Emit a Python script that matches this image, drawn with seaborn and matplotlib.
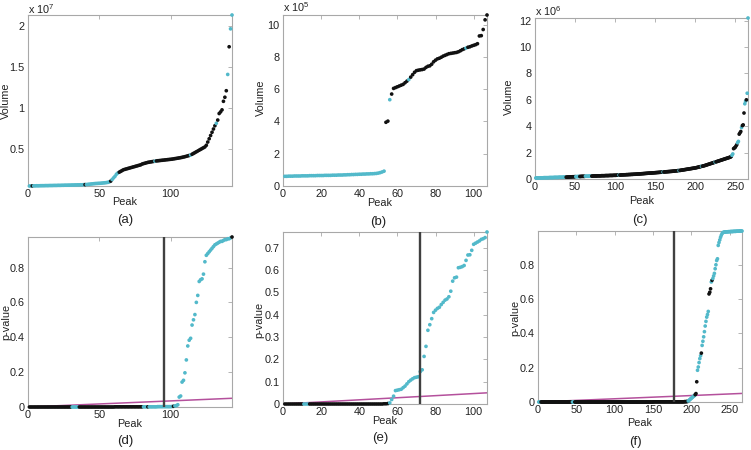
import matplotlib
matplotlib.use("Agg")
import matplotlib.pyplot as plt
import seaborn as sns
import pandas as pd

# ---------------- data ----------------
# (a) sorted peak volumes, units of 1e7
a_vol = [
    .040, .041, .041, .042, .042, .043, .043, .043, .044, .044,
    .044, .045, .045, .045, .046, .046, .046, .047, .047, .047,
    .048, .048, .048, .049, .049, .050, .050, .050, .051, .051,
    .052, .052, .053, .053, .054, .054, .055, .055, .056, .057,
    .058, .060, .062, .064, .066, .068, .070, .071, .072, .073,
    .074, .076, .078, .080, .082, .085, .090, .100, .120, .140,
    .160, .185, .200, .210, .220, .230, .240, .245, .250, .255,
    .260, .265, .270, .275, .280, .285, .290, .295, .300, .310,
    .315, .320, .325, .330, .333, .336, .339, .342, .345, .348,
    .350, .352, .354, .356, .358, .360, .362, .364, .366, .368,
    .370, .373, .376, .379, .382, .385, .388, .392, .396, .400,
    .405, .410, .415, .420, .430, .440, .450, .460, .470, .480,
    .490, .500, .510, .520, .540, .580, .620, .660, .700, .740,
    .780, .810, .850, .930, .950, .975, 1.08, 1.13, 1.21, 1.41,
    1.75, 1.97, 2.14,
]
a_runs = [("c", 2), ("k", 1), ("c", 36), ("k", 1), ("c", 17), ("k", 1), ("c", 5),
          ("k", 25), ("c", 1), ("k", 24), ("c", 1), ("k", 17), ("c", 1), ("k", 7),
          ("c", 1), ("k", 1), ("c", 2)]

# (b) sorted peak volumes, units of 1e5
b_vol = [
    .60, .60, .61, .61, .61, .62, .62, .62, .62, .63,
    .63, .63, .63, .64, .64, .64, .64, .65, .65, .65,
    .65, .66, .66, .66, .66, .67, .67, .67, .68, .68,
    .68, .69, .69, .70, .70, .71, .71, .72, .72, .73,
    .73, .74, .74, .75, .75, .76, .76, .77, .78, .80,
    .83, .87, .92, 3.95, 4.02, 5.35, 5.70,
    6.05, 6.10, 6.15, 6.20, 6.25, 6.30, 6.40, 6.50, 6.60, 6.75,
    6.90, 7.05, 7.15, 7.18, 7.20, 7.22, 7.25, 7.35, 7.42, 7.45,
    7.55, 7.70, 7.80, 7.88, 7.92, 7.98, 8.05, 8.10, 8.15, 8.20,
    8.22, 8.24, 8.26, 8.28, 8.32, 8.38, 8.45, 8.50, 8.55, 8.60,
    8.63, 8.68, 8.72, 8.76, 8.82, 9.30, 9.32, 9.70, 10.30, 10.60,
]
b_runs = [("c", 53), ("k", 2), ("c", 1), ("k", 9), ("c", 1), ("k", 29), ("c", 1), ("k", 11)]

# (c) sorted peak volumes, units of 1e6
c_vol = [
    .08, .08, .08, .08, .09, .09, .09, .09, .09, .09,
    .10, .10, .10, .10, .10, .10, .10, .11, .11, .11,
    .11, .11, .11, .12, .12, .12, .12, .12, .12, .13,
    .13, .13, .13, .13, .13, .14, .14, .14, .14, .14,
    .15, .15, .15, .16, .16, .16, .17, .17, .17, .18,
    .18, .18, .18, .19, .19, .19, .19, .20, .20, .20,
    .20, .20, .21, .21, .21, .21, .21, .22, .22, .22,
    .22, .22, .23, .23, .23, .23, .23, .24, .24, .24,
    .24, .24, .25, .25, .25, .25, .25, .26, .26, .26,
    .26, .26, .27, .27, .27, .27, .27, .28, .28, .28,
    .28, .29, .29, .29, .30, .30, .30, .31, .31, .31,
    .32, .32, .32, .33, .33, .33, .34, .34, .34, .35,
    .35, .35, .36, .36, .36, .37, .37, .38, .38, .38,
    .39, .39, .40, .40, .41, .41, .42, .42, .43, .43,
    .44, .44, .45, .45, .45, .46, .46, .47, .47, .48,
    .48, .49, .49, .50, .50, .51, .51, .52, .52, .53,
    .53, .54, .54, .55, .55, .56, .56, .57, .57, .58,
    .58, .59, .60, .60, .61, .62, .62, .63, .64, .64,
    .65, .66, .67, .68, .69, .70, .71, .72, .73, .74,
    .75, .76, .77, .78, .79, .80, .81, .82, .83, .84,
    .85, .87, .88, .90, .91, .93, .94, .96, .97, .99,
    1.00, 1.02, 1.04, 1.06, 1.08, 1.10, 1.12, 1.14, 1.16, 1.18,
    1.20, 1.22, 1.24, 1.26, 1.28, 1.30, 1.32, 1.34, 1.36, 1.38,
    1.40, 1.42, 1.44, 1.46, 1.48, 1.50, 1.52, 1.54, 1.56, 1.58,
    1.60, 1.62, 1.64, 1.66, 1.70, 1.80, 1.90, 2.30, 2.35, 2.40,
    2.50, 2.60, 2.75, 2.85, 3.40, 3.50, 3.60, 3.90, 4.05, 4.10,
    5.00, 5.70, 5.90, 6.00, 6.50, 12.20,
]
c_runs = [("c", 38), ("k", 12), ("c", 5), ("k", 7), ("c", 8), ("k", 34), ("c", 1),
          ("k", 54), ("c", 1), ("k", 19), ("c", 1), ("k", 27), ("c", 1), ("k", 16),
          ("c", 1), ("k", 20), ("c", 2), ("k", 5), ("c", 2), ("k", 3), ("c", 1),
          ("k", 3), ("c", 2), ("k", 1), ("c", 2)]

# (d) sorted p-values
d_p = [
    0, 0, 0, 0, 0, 0, 0, 0, 0, 0,
    0, 0, 0, 0, 0, 0, 0, 0, 0, 0,
    0, 0, 0, 0, 0, 0, 0, 0, 0, 0,
    0, 0, 0, 0, 0, 0, 0, 0, 0, 0,
    0, 0, 0, 0, 0, 0, 0, 0, 0, 0,
    0, 0, 0, 0, 0, 0, 0, 0, 0, 0,
    .001, .001, .001, .001, .001, .001, .001, .001, .001, .001,
    .001, .001, .001, .001, .001, .001, .001, .001, .001, .001,
    .001, .001, .001, .001, .001, .001, .001, .001, .001, .001,
    .002, .002, .002, .002, .002, .002, .002, .002, .002, .002,
    .003, .004, .006, .008, .013,
    .057, .063, .143, .153, .196, .270, .350, .383, .394, .470,
    .500, .530, .600, .640, .720, .730, .735, .762, .833,
    .870, .880, .890, .900, .910, .920, .930, .935, .940, .945,
    .950, .950, .955, .960, .960, .965, .965, .970, .975,
]
d_runs = [("k", 30), ("c", 5), ("k", 45), ("c", 3), ("k", 1), ("c", 17), ("k", 1), ("c", 40), ("k", 1)]
d_cut = 95

# (e) sorted p-values
e_p = [
    0, 0, 0, 0, 0, 0, 0, 0, 0, 0,
    0, 0, 0, 0, 0, 0, 0, 0, 0, 0,
    0, 0, 0, 0, 0, 0, 0, 0, 0, 0,
    0, 0, 0, 0, 0, 0, 0, 0, 0, 0,
    0, 0, 0, 0, 0, 0, 0, 0, 0, 0,
    0, 0, .001, .001, .002,
    .005, .020, .035, .060, .062, .064, .066, .073, .080, .090,
    .100, .107, .113, .118, .120, .122, .145, .153, .213, .258,
    .330, .355, .382, .410, .420, .428, .433, .445, .455, .465,
    .470, .480, .505, .550, .565, .568, .610, .612, .615, .620,
    .643, .667, .668, .688, .715, .720, .725, .730, .737, .740,
    .745, .770,
]
e_runs = [("k", 10), ("c", 3), ("k", 42), ("c", 52)]
e_cut = 72

# (f) sorted p-values
f_p = [
    0, 0, 0, 0, 0, 0, 0, 0, 0, 0,
    0, 0, 0, 0, 0, 0, 0, 0, 0, 0,
    0, 0, 0, 0, 0, 0, 0, 0, 0, 0,
    0, 0, 0, 0, 0, 0, 0, 0, 0, 0,
    0, 0, 0, 0, 0, 0, 0, 0, 0, 0,
    0, 0, 0, 0, 0, 0, 0, 0, 0, 0,
    0, 0, 0, 0, 0, 0, 0, 0, 0, 0,
    0, 0, 0, 0, 0, 0, 0, 0, 0, 0,
    0, 0, 0, 0, 0, 0, 0, 0, 0, 0,
    0, 0, 0, 0, 0, 0, 0, 0, 0, 0,
    0, 0, 0, 0, 0, 0, 0, 0, 0, 0,
    0, 0, 0, 0, 0, 0, 0, 0, 0, 0,
    0, 0, 0, 0, 0, 0, 0, 0, 0, 0,
    0, 0, 0, 0, 0, 0, 0, 0, 0, 0,
    0, 0, 0, 0, 0, 0, 0, 0, 0, 0,
    .001, .001, .001, .001, .001, .001, .001, .001, .001, .001,
    .001, .001, .001, .001, .001, .001, .001, .001, .001, .001,
    .001, .001, .001, .001, .001, .001, .001, .001, .001, .001,
    .001, .001, .001, .001, .001, .001, .001, .001, .001, .001,
    .002, .002, .002, .003, .003,
    .006, .010, .014, .018, .022, .026, .030, .034, .038,
    .043, .049, .118,
    .185, .204, .230, .253, .270, .285, .330, .354, .380, .410,
    .443, .470, .495, .510, .528,
    .630, .640, .660, .700, .710,
    .720, .735, .750, .777, .800, .825, .835,
    .913, .930, .945, .960, .972, .982, .987, .990,
    .991, .991, .992, .992, .992, .993, .993, .993, .994, .994,
    .994, .994, .995, .995, .995, .995, .996, .996, .996, .996,
    .997, .997, .997, .997,
]
f_runs = [("c", 3), ("k", 41), ("c", 3), ("k", 148), ("c", 9), ("k", 3), ("c", 5),
          ("k", 1), ("c", 9), ("k", 3), ("c", 1), ("k", 1), ("c", 39)]
f_cut = 177

fdr_alpha = 0.05

# ---------------- style ----------------
CYAN = "#52B9CA"
BLACK = "#111111"
MAGENTA = "#B4509C"
VLINE = "#404040"
SPINE = "#A8A8A8"
TXT = "#222222"
TICK_FS = 7.8
LAB_FS = 7.8
LET_FS = 9.5

sns.set_theme(style="white")
plt.rcParams["font.family"] = ["Liberation Sans", "DejaVu Sans"]
plt.rcParams["mathtext.fontset"] = "custom"
plt.rcParams["mathtext.rm"] = "Liberation Sans"

W, H = 751, 450
fig = plt.figure(figsize=(W / 100, H / 100), dpi=100)


def pos(l, r, t, b):
    return [l / W, 1 - b / H, (r - l) / W, (b - t) / H]


def runs_to_list(runs):
    out = []
    for g, n in runs:
        out.extend([g] * n)
    return out


def ftext(x, y, s, **kw):
    fig.text(x / W, 1 - y / H, s, color=TXT, **kw)


def panel(rect, vals, runs, xticks, yticks, ylim):
    ax = fig.add_axes(rect)
    n = len(vals)
    df = pd.DataFrame({"Peak": list(range(1, n + 1)), "v": vals, "g": runs_to_list(runs)})
    sns.scatterplot(data=df, x="Peak", y="v", hue="g", palette={"c": CYAN, "k": BLACK},
                    s=7, linewidth=0, legend=False, ax=ax, clip_on=False, zorder=3)
    ax.set_xlim(0, n)
    ax.set_ylim(*ylim)
    ax.set_xticks(xticks)
    ax.set_yticks(yticks)
    ax.set_xticklabels(["%g" % t for t in xticks])
    ax.set_yticklabels(["%g" % t for t in yticks])
    ax.set_xlabel("")
    ax.set_ylabel("")
    ax.tick_params(direction="in", top=True, right=True, length=3, width=0.6,
                   color=SPINE, labelcolor=TXT, labelsize=TICK_FS)
    ax.tick_params(axis="y", pad=2.5)
    ax.tick_params(axis="x", pad=2.5)
    for sp in ax.spines.values():
        sp.set_color(SPINE)
        sp.set_linewidth(0.8)
    return ax


# top row
ax_a = panel(pos(28, 232, 15, 186), a_vol, a_runs, [0, 50, 100], [0.5, 1, 1.5, 2],
             (min(a_vol), max(a_vol)))
ax_b = panel(pos(283, 487, 15, 186), b_vol, b_runs, [0, 20, 40, 60, 80, 100],
             [0, 2, 4, 6, 8, 10], (0, max(b_vol)))
ax_c = panel(pos(535, 748, 18, 179), c_vol, c_runs, [0, 50, 100, 150, 200, 250],
             [0, 2, 4, 6, 8, 10, 12], (0, max(c_vol)))

# bottom row
bottom = [
    (pos(28, 232, 237, 407), d_p, d_runs, [0, 50, 100], [0, 0.2, 0.4, 0.6, 0.8], d_cut),
    (pos(283, 487, 232, 404), e_p, e_runs, [0, 20, 40, 60, 80, 100],
     [0, 0.1, 0.2, 0.3, 0.4, 0.5, 0.6, 0.7], e_cut),
    (pos(538, 742, 231, 402), f_p, f_runs, [0, 50, 100, 150, 200, 250],
     [0, 0.2, 0.4, 0.6, 0.8], f_cut),
]
for rect, vals, runs, xt, yt, cut in bottom:
    ax = panel(rect, vals, runs, xt, yt, (0, max(vals)))
    n = len(vals)
    sns.lineplot(x=[0, n], y=[0, fdr_alpha], color=MAGENTA, lw=1.1, ax=ax, zorder=2)
    ax.axvline(cut, color=VLINE, lw=1.7, zorder=4)
    ax.set_xlim(0, n)

# exponent labels
ftext(28, 9, r"x 10$^{7}$", fontsize=TICK_FS, ha="left", va="center")
ftext(283, 7, r"x 10$^{5}$", fontsize=TICK_FS, ha="left", va="center")
ftext(535, 11, r"x 10$^{6}$", fontsize=TICK_FS, ha="left", va="center")

# axis labels
for x, y in [(6, 101), (261, 98), (509, 97)]:
    ftext(x, y, "Volume", fontsize=LAB_FS, rotation=90, ha="center", va="center")
for x, y in [(6, 322), (259, 320), (515, 318)]:
    ftext(x, y, "p-value", fontsize=LAB_FS, rotation=90, ha="center", va="center")
for x, y in [(125, 202), (380, 203), (642, 201), (130, 424), (385, 421), (640, 423)]:
    ftext(x, y, "Peak", fontsize=LAB_FS, ha="center", va="center")

# panel letters
letters = [(125, 220, "(a)"), (378, 222, "(b)"), (640, 220, "(c)"),
           (125, 441, "(d)"), (380, 438, "(e)"), (635, 442, "(f)")]
for x, y, s in letters:
    ftext(x, y, s, fontsize=LET_FS, ha="center", va="center")

fig.savefig("out.png", dpi=100, facecolor="white")
